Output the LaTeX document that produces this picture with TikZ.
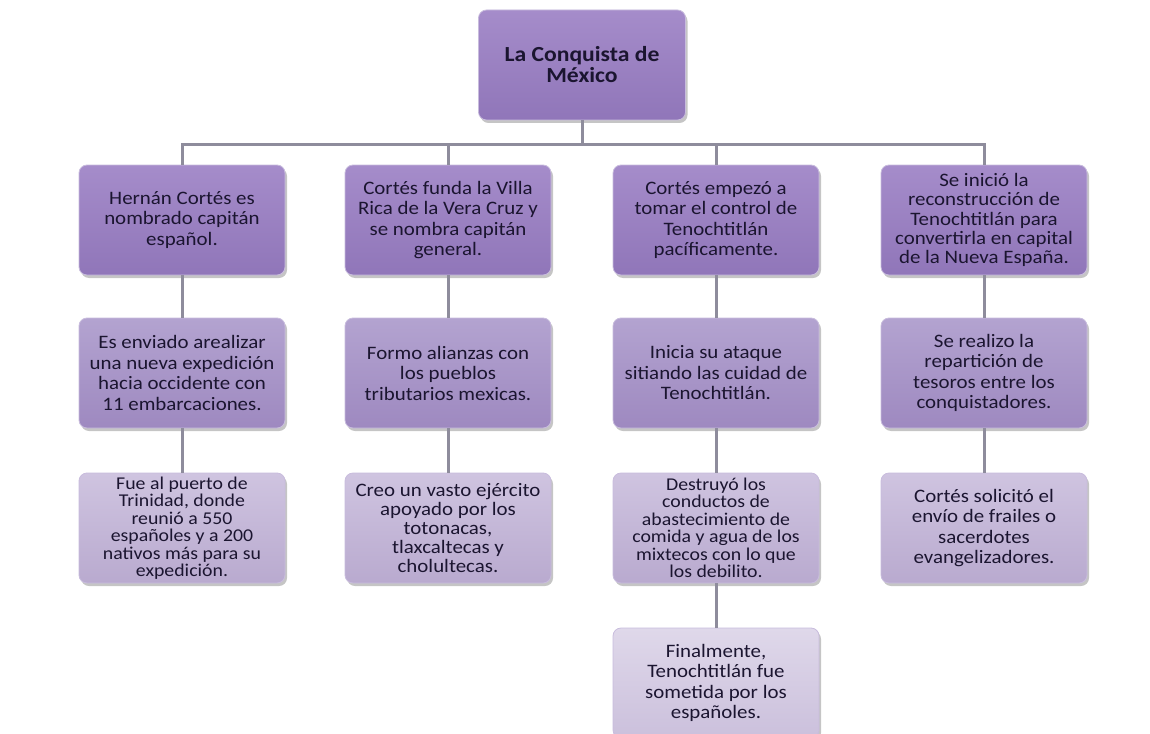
\documentclass[tikz,border=0pt]{standalone}
\usepackage{fontspec}
\setmainfont{Carlito}[FakeStretch=1.1]
\usetikzlibrary{shadows}
\definecolor{txt}{HTML}{1B1530}
\definecolor{lineg}{HTML}{8E8C9C}
\definecolor{lvAt}{HTML}{A58CCA}
\definecolor{lvAb}{HTML}{9076B9}
\definecolor{lvBt}{HTML}{B3A3D0}
\definecolor{lvBb}{HTML}{9E89C0}
\definecolor{lvCt}{HTML}{CFC4E0}
\definecolor{lvCb}{HTML}{B9AACF}
\definecolor{lvDt}{HTML}{DFD8EA}
\definecolor{lvDb}{HTML}{CBC0DC}
\definecolor{edge}{HTML}{C8BCDD}
\tikzset{
  card/.style={rectangle, rounded corners=8pt, minimum width=206pt, minimum height=110pt,
    inner sep=0pt, align=center, text=txt, draw=edge, line width=0.8pt,
    drop shadow={opacity=0.45, shadow xshift=2pt, shadow yshift=-3pt},
    font=\fontsize{19}{20.5}\selectfont},
  lvA/.style={card, top color=lvAt, bottom color=lvAb},
  lvB/.style={card, top color=lvBt, bottom color=lvBb},
  lvC/.style={card, top color=lvCt, bottom color=lvCb},
  lvD/.style={card, top color=lvDt, bottom color=lvDb},
  dense/.style={font=\fontsize{18}{17.5}\selectfont},
  five/.style={font=\fontsize{19}{19.2}\selectfont},
  conn/.style={draw=lineg, line width=3pt}
}
\begin{document}
\begin{tikzpicture}[x=1pt,y=-1pt]
\useasboundingbox (0,0) rectangle (1150,733);
\fill[white] (0,0) rectangle (1150,733);
\coordinate (bus) at (582,144);
\node[lvA, minimum width=207pt, font=\bfseries\fontsize{21.5}{21}\selectfont] (top) at (582,65) {La Conquista de\\México};
\node[lvA] (a1) at (182,220) {Hernán Cortés es\\nombrado capitán\\español.};
\node[lvB] (a2) at (182,373) {Es enviado arealizar\\una nueva expedición\\hacia occidente con\\11 embarcaciones.};
\node[lvC, dense] (a3) at (182,528) {Fue al puerto de\\Trinidad, donde\\reunió a 550\\españoles y a 200\\nativos más para su\\expedición.};
\node[lvA] (b1) at (448,220) {Cortés funda la Villa\\Rica de la Vera Cruz y\\se nombra capitán\\general.};
\node[lvB] (b2) at (448,373) {Formo alianzas con\\los pueblos\\tributarios mexicas.};
\node[lvC, five] (b3) at (448,528) {Creo un vasto ejército\\apoyado por los\\totonacas,\\tlaxcaltecas y\\cholultecas.};
\node[lvA] (c1) at (716,220) {Cortés empezó a\\tomar el control de\\Tenochtitlán\\pacíficamente.};
\node[lvB] (c2) at (716,373) {Inicia su ataque\\sitiando las cuidad de\\Tenochtitlán.};
\node[lvC, dense] (c3) at (716,528) {Destruyó los\\conductos de\\abastecimiento de\\comida y agua de los\\mixtecos con lo que\\los debilito.};
\node[lvD] (c4) at (716,683) {Finalmente,\\Tenochtitlán fue\\sometida por los\\españoles.};
\node[lvA, five] (d1) at (984,220) {Se inició la\\reconstrucción de\\Tenochtitlán para\\convertirla en capital\\de la Nueva España.};
\node[lvB] (d2) at (984,373) {Se realizo la\\repartición de\\tesoros entre los\\conquistadores.};
\node[lvC] (d3) at (984,528) {Cortés solicitó el\\envío de frailes o\\sacerdotes\\evangelizadores.};
\draw[conn] (top.south) -- (bus);
\draw[conn] (bus) -| (a1.north);
\draw[conn] (bus) -| (b1.north);
\draw[conn] (bus) -| (c1.north);
\draw[conn] (bus) -| (d1.north);
\draw[conn] (a1.south) -- (a2.north);
\draw[conn] (a2.south) -- (a3.north);
\draw[conn] (b1.south) -- (b2.north);
\draw[conn] (b2.south) -- (b3.north);
\draw[conn] (c1.south) -- (c2.north);
\draw[conn] (c2.south) -- (c3.north);
\draw[conn] (c3.south) -- (c4.north);
\draw[conn] (d1.south) -- (d2.north);
\draw[conn] (d2.south) -- (d3.north);
\end{tikzpicture}
\end{document}
